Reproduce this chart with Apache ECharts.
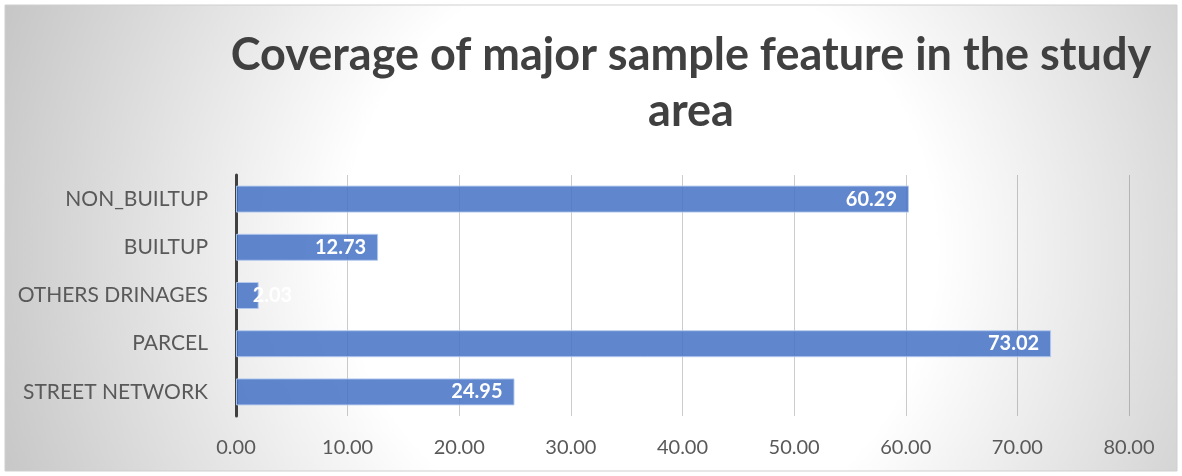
<!DOCTYPE html>
<html>
<head>
<meta charset="utf-8">
<script src="https://cdn.jsdelivr.net/npm/echarts@6/dist/echarts.min.js"></script>
<style>
  html, body { margin: 0; padding: 0; background: #fff; }
  #main { width: 1182px; height: 476px; }
</style>
</head>
<body>
<div id="main"></div>
<script>
var myChart = echarts.init(document.getElementById("main"));

// data (bottom to top, like the original)
var categories = ["STREET NETWORK", "PARCEL", "OTHERS DRINAGES", "BUILTUP", "NON_BUILTUP"];
var coverage = [24.95, 73.02, 2.03, 12.73, 60.29];
var tickMin = 0, tickMax = 80, tickStep = 10;

var font = "Lato, 'Open Sans', sans-serif";

// small bars can't hold their label, so it spills past the bar end
var barData = coverage.map(function (v) {
    if (v < 5) {
        return { value: v, label: { position: 'right', distance: -6 } };
    }
    return v;
});

option = {
    animation: false,
    graphic: [{
        type: 'rect',
        z: -10,
        silent: true,
        shape: { x: 5, y: 5, width: 1172, height: 466 },
        style: {
            fill: new echarts.graphic.RadialGradient(640, 250, 740, [
                { offset: 0, color: '#ffffff' },
                { offset: 0.4, color: '#ffffff' },
                { offset: 1, color: '#bdbdbd' }
            ], true),
            stroke: '#cfcfcf',
            lineWidth: 1
        }
    }],
    title: {
        text: 'Coverage of major sample feature in the study\narea',
        left: 686,
        top: 22,
        textAlign: 'center',
        textStyle: {
            fontFamily: font,
            fontSize: 45,
            fontWeight: 'bold',
            color: '#404040',
            lineHeight: 56
        }
    },
    grid: {
        left: 236,
        right: 53,
        top: 175,
        bottom: 60,
        containLabel: false
    },
    xAxis: {
        type: 'value',
        min: tickMin,
        max: tickMax,
        interval: tickStep,
        axisLine: { show: false },
        axisTick: { show: false },
        axisLabel: {
            margin: 22,
            fontFamily: font,
            fontSize: 20,
            color: '#595959',
            formatter: function (v) { return v.toFixed(2); }
        },
        splitLine: { lineStyle: { color: 'rgba(0,0,0,0.2)', width: 1 } }
    },
    yAxis: {
        type: 'category',
        data: categories,
        axisLine: { lineStyle: { color: '#404040', width: 3 } },
        axisTick: { show: false },
        axisLabel: {
            margin: 28,
            fontFamily: font,
            fontSize: 21,
            color: '#595959'
        }
    },
    series: [{
        type: 'bar',
        data: barData,
        barWidth: '56%',
        itemStyle: {
            color: 'rgba(68,114,196,0.85)',
            borderColor: 'rgba(180,202,238,0.9)',
            borderWidth: 1
        },
        label: {
            show: true,
            position: 'insideRight',
            distance: 12,
            fontFamily: font,
            fontSize: 20,
            fontWeight: 'bold',
            color: '#ffffff',
            formatter: function (p) { return p.value.toFixed(2); }
        }
    }]
};
myChart.setOption(option);
</script>
</body>
</html>
